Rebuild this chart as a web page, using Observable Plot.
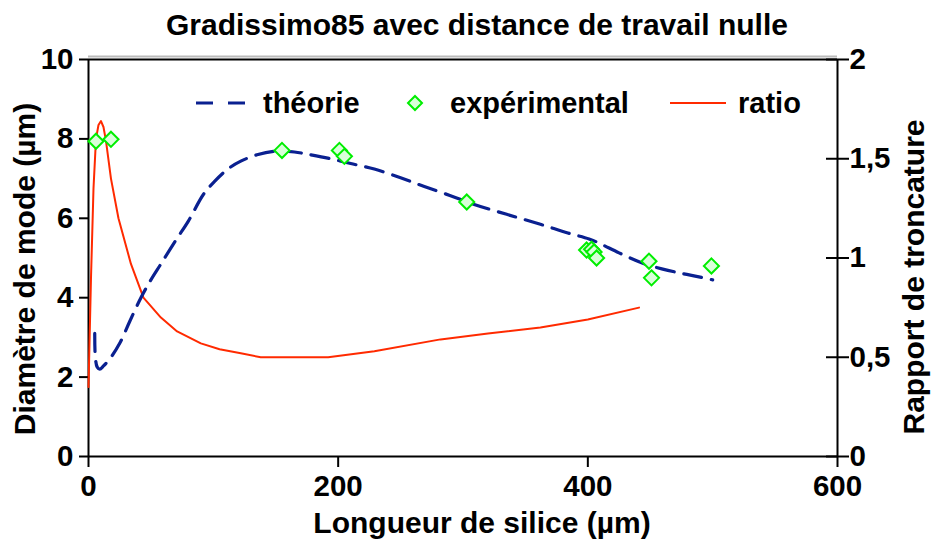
<!DOCTYPE html>
<html>
<head>
<meta charset="utf-8">
<script src="https://cdn.jsdelivr.net/npm/d3@7"></script>
<script src="https://cdn.jsdelivr.net/npm/@observablehq/plot@0.6"></script>
<style>
  html, body { margin: 0; padding: 0; background: #fff; }
  #wrap { position: relative; width: 933px; height: 543px; }
  #legend { position: absolute; left: 0; top: 0; pointer-events: none; }
  text { font-family: "Liberation Sans", Arial, sans-serif; font-weight: bold; }
</style>
</head>
<body>
<div id="wrap"></div>
<script>
// ---- Data ----
const titleText = "Gradissimo85 avec distance de travail nulle";
const xLabel = "Longueur de silice (µm)";
const yLabelLeft = "Diamètre de mode (µm)";
const yLabelRight = "Rapport de troncature";
const seriesNames = ["théorie", "expérimental", "ratio"];

// théorie (dashed blue): x in µm, mode diameter in µm
const theoryX = [5, 5.5, 7, 9, 12, 18, 25, 33, 42, 50, 58, 70, 80, 92, 101, 112, 122, 135, 149, 165, 176, 194, 210, 229, 250, 269, 290, 309, 335, 362, 384, 401, 410, 425, 444, 460, 474, 485, 500];
const theoryY = [3.1, 2.5, 2.25, 2.2, 2.28, 2.5, 2.85, 3.4, 4.0, 4.45, 4.85, 5.45, 5.93, 6.6, 6.93, 7.25, 7.44, 7.6, 7.69, 7.67, 7.61, 7.5, 7.38, 7.24, 7.02, 6.8, 6.57, 6.35, 6.1, 5.85, 5.63, 5.48, 5.36, 5.13, 4.87, 4.72, 4.62, 4.55, 4.45];

// expérimental (green diamonds)
const expX = [6, 18, 155, 201, 205, 303, 399, 403, 405, 407, 449, 451, 499];
const expY = [7.94, 7.99, 7.71, 7.71, 7.56, 6.41, 5.2, 5.22, 5.15, 5.0, 4.92, 4.5, 4.8];

// ratio (red line), right axis
const ratioX = [0, 2, 4, 6, 8, 10, 12, 14, 18, 24, 34, 44, 58, 71, 90, 105, 122, 138, 165, 192, 229, 282, 320, 362, 400, 441];
const ratioY = [0.35, 0.9, 1.35, 1.6, 1.67, 1.69, 1.66, 1.59, 1.40, 1.2, 0.97, 0.8, 0.70, 0.63, 0.57, 0.54, 0.52, 0.50, 0.50, 0.50, 0.53, 0.59, 0.62, 0.65, 0.69, 0.75];

// axes
const xDomain = [0, 600];
const yDomain = [0, 10];
const xTicks = [0, 200, 400, 600];
const leftTicks = [0, 2, 4, 6, 8, 10];
const rightTicks = [0, 0.5, 1, 1.5, 2];
const rightTickLabels = ["0", "0,5", "1", "1,5", "2"];
const rightToLeft = 5; // right axis 0..2 maps onto left axis 0..10

// ---- Tables ----
const theory = theoryX.map((x, i) => ({x, y: theoryY[i]}));
const exp = expX.map((x, i) => ({x, y: expY[i]}));
const ratio = ratioX.map((x, i) => ({x, y: ratioY[i] * rightToLeft}));
const rightTickPos = rightTicks.map(v => v * rightToLeft);
const rightLabelMap = new Map(rightTickPos.map((p, i) => [p, rightTickLabels[i]]));

const BLUE = "#0a2090";
const RED = "#ff2a00";
const GREEN = "#00ee00";
const GREEN_FILL = "#d9ffd9";
const FS_TICK = 29.5;
const FS_LABEL = 30;
const FS_LEG = 29;

const chart = Plot.plot({
  width: 933,
  height: 543,
  marginLeft: 88,
  marginRight: 96,
  marginTop: 59,
  marginBottom: 87,
  style: {fontFamily: '"Liberation Sans", Arial, sans-serif', fontWeight: "bold", background: "#fff", color: "#000"},
  x: {domain: xDomain},
  y: {domain: yDomain},
  marks: [
    // frame
    Plot.ruleY([yDomain[1]], {stroke: "#bbb", strokeWidth: 2, dy: -3}),
    Plot.ruleY([yDomain[1]], {stroke: "#000", strokeWidth: 2}),
    Plot.ruleY([yDomain[0]], {stroke: "#000", strokeWidth: 2}),
    Plot.ruleX([xDomain[0], xDomain[1]], {stroke: "#000", strokeWidth: 2}),
    // left axis
    Plot.axisY({anchor: "left", ticks: leftTicks, tickSize: 9, tickPadding: 6, fontSize: FS_TICK, label: null, strokeWidth: 2}),
    // bottom axis
    Plot.axisX({anchor: "bottom", ticks: xTicks, tickSize: 11, tickPadding: 8, fontSize: FS_TICK, label: null, strokeWidth: 2}),
    // right axis (crossing ticks + labels)
    Plot.axisY({anchor: "right", ticks: rightTickPos, tickSize: 23, dx: -12, strokeWidth: 2, tickFormat: () => "", label: null}),
    Plot.axisY({anchor: "right", ticks: rightTickPos, tickSize: 0, tickPadding: 12, fontSize: FS_TICK, tickFormat: d => rightLabelMap.get(d), label: null}),
    // series
    Plot.line(ratio, {x: "x", y: "y", stroke: RED, strokeWidth: 2, curve: "linear"}),
    Plot.line(theory, {x: "x", y: "y", stroke: BLUE, strokeWidth: 3.2, strokeDasharray: "18,10", curve: "catmull-rom"}),
    Plot.dot(exp, {x: "x", y: "y", symbol: "diamond2", r: 6.8, stroke: GREEN, strokeWidth: 2, fill: GREEN_FILL}),
    // title and x label
    Plot.text([titleText], {frameAnchor: "top", lineAnchor: "middle", dx: 14, dy: -34, fontSize: FS_LABEL, fontWeight: "bold"}),
    Plot.text([xLabel], {frameAnchor: "bottom", lineAnchor: "middle", dx: 19, dy: 67, fontSize: FS_LABEL, fontWeight: "bold"})
  ]
});

const wrap = document.getElementById("wrap");
wrap.appendChild(chart);

// ---- Overlay: legend and rotated axis titles ----
const ns = "http://www.w3.org/2000/svg";
const lg = document.createElementNS(ns, "svg");
lg.setAttribute("id", "legend");
lg.setAttribute("width", 933);
lg.setAttribute("height", 543);
function el(tag, attrs) {
  const e = document.createElementNS(ns, tag);
  for (const k in attrs) e.setAttribute(k, attrs[k]);
  lg.appendChild(e);
  return e;
}
const ly = 103;
el("line", {x1: 196, x2: 248, y1: ly, y2: ly, stroke: BLUE, "stroke-width": 3.2, "stroke-dasharray": "17,15"});
el("text", {x: 263, y: ly + 10, "font-size": FS_LEG}).textContent = seriesNames[0];
el("path", {d: `M415,${ly-7}L422,${ly}L415,${ly+7}L408,${ly}Z`, stroke: GREEN, "stroke-width": 2, fill: GREEN_FILL});
el("text", {x: 450, y: ly + 10, "font-size": FS_LEG}).textContent = seriesNames[1];
el("line", {x1: 670, x2: 726, y1: ly, y2: ly, stroke: RED, "stroke-width": 2});
el("text", {x: 738, y: ly + 10, "font-size": FS_LEG}).textContent = seriesNames[2];

el("text", {transform: "translate(35,269) rotate(-90)", "text-anchor": "middle", "font-size": FS_LABEL}).textContent = yLabelLeft;
el("text", {transform: "translate(924,277) rotate(-90)", "text-anchor": "middle", "font-size": FS_LABEL}).textContent = yLabelRight;
wrap.appendChild(lg);
</script>
</body>
</html>
